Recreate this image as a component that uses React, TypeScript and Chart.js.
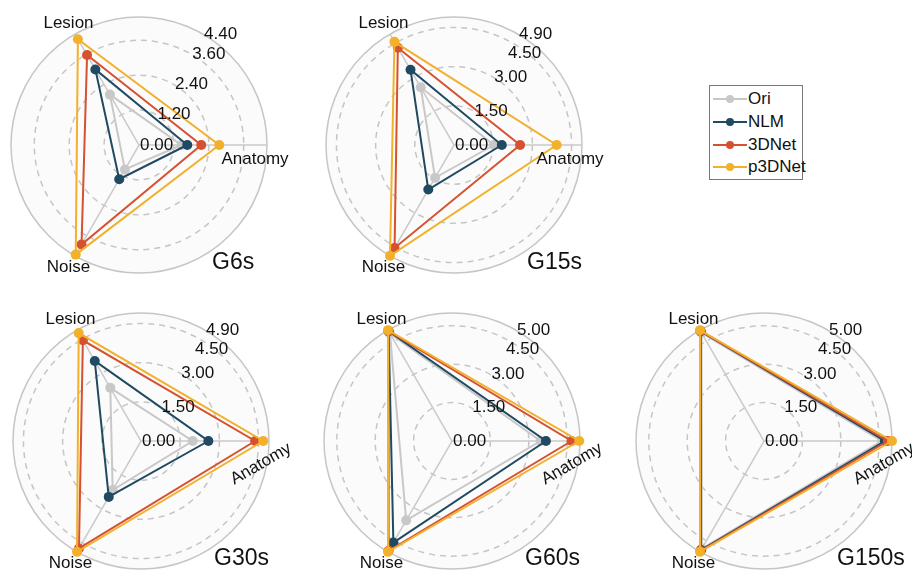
import React, { useEffect, useRef } from "react";
import { Chart, registerables } from "chart.js";

Chart.register(...registerables);

const FONT = '"Liberation Sans", Arial, Helvetica, sans-serif';

// axis order (clockwise from the right): Anatomy, Noise, Lesion
const axisLabels = ["Anatomy", "Noise", "Lesion"];
const seriesNames = ["Ori", "NLM", "3DNet", "p3DNet"];
const seriesColors = ["#c8c8c8", "#1f4a62", "#d5512f", "#f2b02b"];

// values in axis order [Anatomy, Noise, Lesion]
const g6sOri = [1.46, 0.97, 2.0];
const g6sNLM = [1.66, 1.36, 3.0];
const g6s3DNet = [2.14, 3.95, 3.57];
const g6sP3DNet = [2.76, 4.35, 4.2];
const g6sTicks = [0, 1.2, 2.4, 3.6, 4.4];

const g15sOri = [1.53, 1.45, 2.55];
const g15sNLM = [1.83, 1.97, 3.33];
const g15s3DNet = [2.53, 4.55, 4.3];
const g15sP3DNet = [3.93, 4.9, 4.56];
const g15sTicks = [0, 1.5, 3.0, 4.5, 4.9];

const g30sOri = [1.98, 2.17, 2.35];
const g30sNLM = [2.58, 2.47, 3.54];
const g30s3DNet = [4.37, 4.75, 4.45];
const g30sP3DNet = [4.68, 4.9, 4.77];
const g30sTicks = [0, 1.5, 3.0, 4.5, 4.9];

const g60sOri = [3.46, 3.58, 4.85];
const g60sNLM = [3.67, 4.58, 4.95];
const g60s3DNet = [4.67, 4.95, 4.95];
const g60sP3DNet = [4.97, 5.0, 5.0];
const g60sTicks = [0, 1.5, 3.0, 4.5, 5.0];

const g150sOri = [4.6, 4.85, 4.88];
const g150sNLM = [4.72, 4.92, 4.95];
const g150s3DNet = [4.84, 4.95, 4.97];
const g150sP3DNet = [5.0, 5.0, 5.0];
const g150sTicks = [0, 1.5, 3.0, 4.5, 5.0];

const panels = [
  { title: "G6s", ticks: g6sTicks, series: [g6sOri, g6sNLM, g6s3DNet, g6sP3DNet], cx: 139, cy: 145, tilt: 0 },
  { title: "G15s", ticks: g15sTicks, series: [g15sOri, g15sNLM, g15s3DNet, g15sP3DNet], cx: 454, cy: 145, tilt: 0 },
  { title: "G30s", ticks: g30sTicks, series: [g30sOri, g30sNLM, g30s3DNet, g30sP3DNet], cx: 141, cy: 441, tilt: -30 },
  { title: "G60s", ticks: g60sTicks, series: [g60sOri, g60sNLM, g60s3DNet, g60sP3DNet], cx: 452, cy: 441, tilt: -30 },
  { title: "G150s", ticks: g150sTicks, series: [g150sOri, g150sNLM, g150s3DNet, g150sP3DNet], cx: 764, cy: 441, tilt: -30 },
];

const SIZE = 300;
const PAD = 22;

function RadarPanel({ panel }: { panel: any }) {
  const ref = useRef<HTMLCanvasElement>(null);
  useEffect(() => {
    const tickVals: number[] = panel.ticks;
    const max = tickVals[tickVals.length - 1];
    const textPlugin = {
      id: "radarText",
      afterDraw(chart: any) {
        const scale = chart.scales.r;
        const ctx = chart.ctx;
        const cx = scale.xCenter;
        const cy = scale.yCenter;
        const R = scale.getDistanceFromCenterForValue(max);
        ctx.save();
        ctx.fillStyle = "#111";
        ctx.font = `17px ${FONT}`;
        ctx.textBaseline = "middle";
        // tick labels along the 60 degree direction
        const radii = tickVals.map((v) => scale.getDistanceFromCenterForValue(v));
        for (let i = radii.length - 2; i >= 1; i--) {
          if (radii[i + 1] - radii[i] < 22) radii[i] = radii[i + 1] - 22;
        }
        ctx.textAlign = "left";
        const a = -Math.PI / 3;
        tickVals.forEach((v, i) => {
          ctx.fillText(v.toFixed(2), cx + radii[i] * Math.cos(a) + 1, cy + radii[i] * Math.sin(a));
        });
        // point labels
        ctx.textAlign = "center";
        [1, 2].forEach((idx) => {
          const p = scale.getPointPosition(idx, R + 13);
          ctx.fillText(axisLabels[idx], p.x, p.y);
        });
        const pa = scale.getPointPosition(0, R);
        ctx.save();
        if (panel.tilt === 0) {
          ctx.translate(pa.x - 12, pa.y + 14);
        } else {
          ctx.translate(pa.x - 8, pa.y + 23);
          ctx.rotate((panel.tilt * Math.PI) / 180);
        }
        ctx.fillText(axisLabels[0], 0, 0);
        ctx.restore();
        // panel title
        ctx.font = `23px ${FONT}`;
        ctx.textAlign = "left";
        ctx.fillText(panel.title, cx + 73, cy + 118);
        ctx.restore();
      },
    };
    const chart = new Chart(ref.current as HTMLCanvasElement, {
      type: "radar",
      data: {
        labels: axisLabels,
        datasets: panel.series.map((vals: number[], i: number) => ({
          label: seriesNames[i],
          data: vals,
          borderColor: seriesColors[i],
          backgroundColor: seriesColors[i],
          pointBackgroundColor: seriesColors[i],
          pointBorderColor: seriesColors[i],
          pointBorderWidth: 0,
          pointRadius: 5,
          borderWidth: 2,
          fill: false,
          tension: 0,
          order: 4 - i,
        })),
      },
      options: {
        responsive: false,
        animation: false,
        layout: { padding: PAD },
        plugins: { legend: { display: false }, tooltip: { enabled: false } },
        scales: {
          r: {
            min: 0,
            max,
            startAngle: 90,
            backgroundColor: "#fbfbfb",
            afterBuildTicks: (scale: any) => {
              scale.ticks = tickVals.map((v) => ({ value: v }));
            },
            ticks: { display: false },
            pointLabels: { display: false },
            grid: { circular: true, color: "#c6c6c6", lineWidth: 1.5 },
            border: { dash: (c: any) => (c.index === tickVals.length - 1 ? [] : [6, 5]) },
            angleLines: { display: true, color: "#cacaca", lineWidth: 1.5 },
          },
        },
      } as any,
      plugins: [textPlugin],
    });
    return () => chart.destroy();
  }, []);
  return (
    <canvas
      ref={ref}
      width={SIZE}
      height={SIZE}
      style={{ position: "absolute", left: panel.cx - SIZE / 2, top: panel.cy - SIZE / 2, width: SIZE, height: SIZE }}
    />
  );
}

export default function App() {
  return (
    <div
      style={{
        position: "fixed",
        left: 0,
        top: 0,
        width: 912,
        height: 571,
        overflow: "hidden",
        background: "#fff",
      }}
    >
      {panels.map((p) => (
        <RadarPanel key={p.title} panel={p} />
      ))}
      <div
        style={{
          position: "absolute",
          left: 709,
          top: 85,
          width: 94,
          height: 95,
          border: "1px solid #777",
          boxSizing: "border-box",
          background: "#fff",
          fontFamily: FONT,
          fontSize: 17,
          color: "#111",
          paddingTop: 2,
        }}
      >
        {seriesNames.map((n, i) => (
          <div key={n} style={{ height: 22.7, display: "flex", alignItems: "center" }}>
            <svg width={35} height={12} style={{ marginLeft: 3, flex: "none" }}>
              <line x1={0} y1={6} x2={34} y2={6} stroke={seriesColors[i]} strokeWidth={2} />
              <circle cx={17} cy={6} r={4} fill={seriesColors[i]} />
            </svg>
            <span>{n}</span>
          </div>
        ))}
      </div>
    </div>
  );
}
